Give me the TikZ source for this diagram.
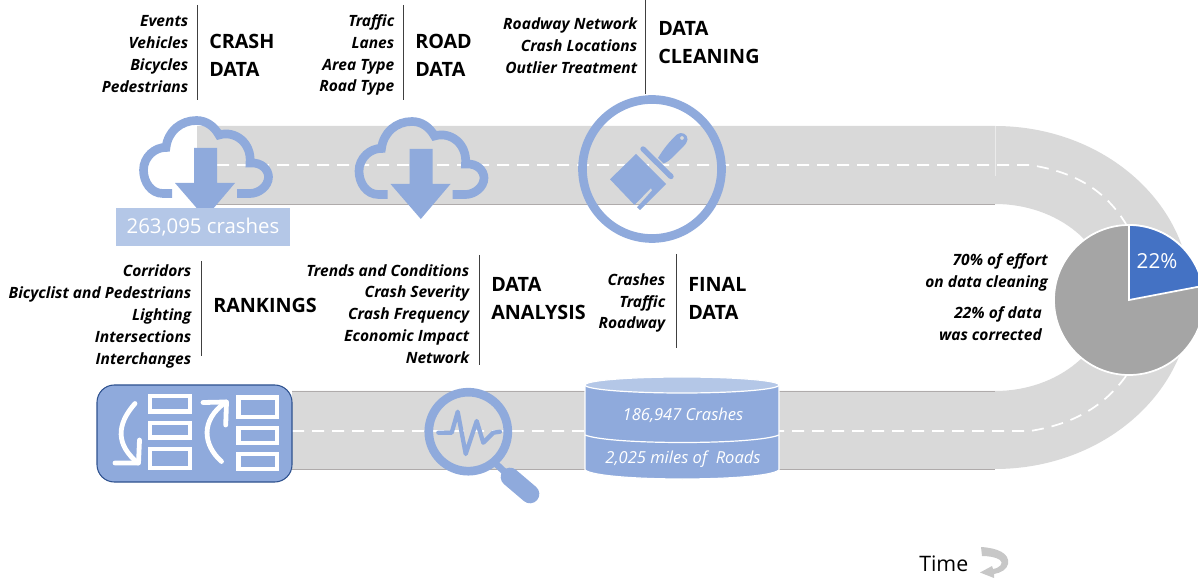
\documentclass[tikz,border=0pt]{standalone}
\usepackage{fontspec}
\setmainfont{Open Sans}
\usetikzlibrary{calc}
\definecolor{iconblue}{HTML}{8FAADC}
\definecolor{paleblue}{HTML}{B4C7E7}
\definecolor{roadgray}{HTML}{D9D9D9}
\definecolor{edgegray}{HTML}{AFABAB}
\definecolor{pieblue}{HTML}{4472C4}
\definecolor{piegray}{HTML}{A5A5A5}
\definecolor{darkblue}{HTML}{2F528F}
\tikzset{
  listtext/.style={anchor=east,align=right,inner sep=0pt,font=\fontsize{11.65}{16.4}\selectfont\bfseries\itshape,text=black},
  headtext/.style={anchor=west,align=left,inner sep=0pt,font=\fontsize{14.8}{21}\selectfont\bfseries,text=black},
  rule/.style={draw=black!75,line width=0.6pt},
  roadedge/.style={draw=edgegray,line width=0.65pt},
  centerdash/.style={draw=white,line width=1.3pt,dash pattern=on 9pt off 6pt},
  iconline/.style={draw=iconblue,line width=6.5pt,fill=none},
  whitebar/.style={draw=white,line width=3.4pt,fill=iconblue},
  whitearrow/.style={draw=white,line width=3.6pt,line cap=round,line join=round},
}
\begin{document}
\begin{tikzpicture}[x=0.75pt,y=-0.75pt]
\useasboundingbox (0,0) rectangle (1198,580);
\clip (0,0) rectangle (1198,580);
% road
\fill[roadgray] (197,126) -- (995,126) arc[start angle=-90,end angle=90,x radius=196,y radius=171.5]
  -- (292,469) -- (292,391) -- (995,391) arc[start angle=90,end angle=-90,x radius=114,y radius=93.5]
  -- (197,204) -- cycle;
\draw[roadedge] (197,204) -- (995,204);
\draw[roadedge] (292,391) -- (995,391);
\draw[roadedge] (292,469) -- (995,469);
\draw[draw=white!92!black,line width=0.6pt] (995,126) -- (995,176);
\draw[centerdash] (197,165) -- (1030,165) .. controls (1075,172) and (1105,190) .. (1126,224);
\draw[centerdash] (292,431) -- (1030,431) .. controls (1075,424) and (1105,405) .. (1126,376);
% clouds
\foreach \dx/\dy/\nm in {0/0/a,215.5/1/b}{
  \begin{scope}[shift={(\dx,\dy)}]
    \draw[iconline] (172,193.5) -- (163,193.5) .. controls (151,193.5) and (143.5,182) .. (143.5,170)
      .. controls (143.5,157) and (155,147) .. (166,147.5)
      .. controls (168,131) and (181,120.5) .. (196.5,120.5)
      .. controls (206,120.5) and (214,126) .. (219,135)
      .. controls (235,130) and (252,143) .. (250,163)
      .. controls (262,162) and (268.5,170) .. (268.5,177)
      .. controls (268.5,186) and (259,193.5) .. (250,193.5) -- (237,193.5);
    \fill[iconblue] (194,148) -- (217,148) -- (217,183) -- (235,183) -- (205.3,218) -- (175,183) -- (194,183) -- cycle;
  \end{scope}
}
\node[fill=paleblue,minimum width=174*0.75pt,minimum height=38*0.75pt,inner sep=0pt,text=white,font=\fontsize{15.3}{18}\selectfont] (crashes) at (203,227.5) {263,095 crashes};
% brush icon
\draw[iconline] (652,169) circle[radius=69.5];
\fill[iconblue] (610,179.3) -- (636,154) -- (666,184) -- (640,210) -- (637,207.3) -- (652,190.5) -- (651,188) -- (634.5,205) -- cycle;
\draw[iconblue,line width=4pt,line cap=round] (643,149) -- (671,176.5);
\fill[iconblue,even odd rule] (658,158) .. controls (664,148) and (670,141) .. (677,134.5)
  .. controls (681,131) and (688,134) .. (687.5,139.5) .. controls (687,145) and (680,149) .. (675,155)
  .. controls (671,159) and (667,162.5) .. (663.5,163.5) -- cycle
  (682,138) circle[radius=2];
% rankings box
\node[draw=darkblue,fill=iconblue,line width=0.8pt,rounded corners=13pt,minimum width=195*0.75pt,minimum height=97*0.75pt,inner sep=0pt] (rank) at (194.5,433.5) {};
\draw[whitebar] (150,396) rectangle (190,411.5);
\draw[whitebar] (150,423) rectangle (190,437.5);
\draw[whitebar] (150,449) rectangle (190,468);
\draw[whitebar] (238.5,397.5) rectangle (277,417);
\draw[whitebar] (238.5,428) rectangle (277,443);
\draw[whitebar] (238.5,454) rectangle (277,469);
\draw[whitearrow] (135,403.5) .. controls (116,425) and (116,445) .. (138,463);
\draw[whitearrow] (115,463) -- (138.5,463) -- (139.5,440);
\draw[whitearrow] (221.5,461.5) .. controls (203,445) and (200,420) .. (226,402);
\draw[whitearrow] (203,402.5) -- (226.5,402) -- (225.7,425);
% magnifier
\draw[iconline] (468.3,431.7) circle[radius=39.5];
\draw[draw=iconblue,line width=5pt] (494,462) -- (510,477);
\draw[draw=iconblue,line width=14pt,line cap=round] (510,477) -- (530,494);
\draw[draw=iconblue,line width=3.2pt,line cap=round,line join=round] (438.3,432.7) -- (451.7,432.7) -- (457.7,411.7) -- (465.7,454) -- (476.7,421) -- (483.3,442.7) -- (493.3,432.7) -- (500,431.7);
% cylinder
\draw[draw=white,line width=0.9pt,fill=iconblue] (585,385) -- (585,470) .. controls (600,482) and (765,482) .. (779,470) -- (779,385) -- cycle;
\draw[draw=white,line width=0.9pt,fill=paleblue] (682,385) ellipse[x radius=97,y radius=8];
\draw[draw=white,line width=0.9pt] (585,435) .. controls (610,445) and (755,445) .. (779,435);
\node[inner sep=0pt,text=white,font=\fontsize{12.4}{15}\selectfont\itshape] (crashcount) at (683,415) {186,947 Crashes};
\node[inner sep=0pt,text=white,font=\fontsize{12.4}{15}\selectfont\itshape] (roadcount) at (683,459) {2,025 miles of\ \ Roads};
% pie
\coordinate (pc) at (1129,300);
\fill[piegray,draw=white,line width=1.3pt] (pc) circle[radius=75];
\fill[pieblue,draw=white,line width=1.3pt] (pc) -- ($(pc)+(0,-75)$) arc[start angle=-90,end angle=-10.8,radius=75] -- cycle;
\node[inner sep=0pt,text=white,font=\fontsize{15.5}{18}\selectfont] (pct) at (1157,261.5) {22\%};
% lists
\node[listtext] (l1) at (188.5,54) {Events\\Vehicles\\Bicycles\\Pedestrians};
\node[headtext] (h1) at (209,55) {CRASH\\DATA};
\draw[rule] (197,5) -- (197,100);
\node[listtext] (l2) at (394.5,55) {Traffic\\Lanes\\Area Type\\Road Type};
\node[headtext] (h2) at (415,55) {ROAD\\DATA};
\draw[rule] (403,5) -- (403,100);
\node[listtext] (l3) at (637.5,46) {Roadway Network\\Crash Locations\\Outlier Treatment};
\node[headtext] (h3) at (658,43) {DATA\\CLEANING};
\draw[rule] (645,0) -- (645,94);
\node[listtext] (l4) at (191.5,316.5) {Corridors\\Bicyclist and Pedestrians\\Lighting\\Intersections\\Interchanges};
\node[headtext] (h4) at (213,305) {RANKINGS};
\draw[rule] (201,261) -- (201,356);
\node[listtext] (l5) at (469.5,314) {Trends and Conditions\\Crash Severity\\Crash Frequency\\Economic Impact\\Network};
\node[headtext] (h5) at (491,299) {DATA\\ANALYSIS};
\draw[rule] (479,255) -- (479,365);
\node[listtext] (l6) at (665.5,303) {Crashes\\Traffic\\Roadway};
\node[headtext] (h6) at (688,298) {FINAL\\DATA};
\draw[rule] (676,254) -- (676,348);
\node[listtext] (e1) at (1048,272.5) {70\% of effort\\on data cleaning};
\node[listtext] (e2) at (1042,323.5) {22\% of data\\was corrected};
% time
\node[anchor=west,inner sep=0pt,font=\fontsize{16}{19}\selectfont,text=black] (timelabel) at (919,564) {Time};
\fill[black!22] (981,547) .. controls (997,548) and (1010,553) .. (1008,564) .. controls (1007,569) and (1001,573) .. (994,574) -- (994,578) -- (980,572.5) -- (992,566) -- (993,569) .. controls (1000,568) and (1004,563) .. (1000,560) .. controls (996,557) and (988,556) .. (982,556) -- cycle;
\end{tikzpicture}
\end{document}
